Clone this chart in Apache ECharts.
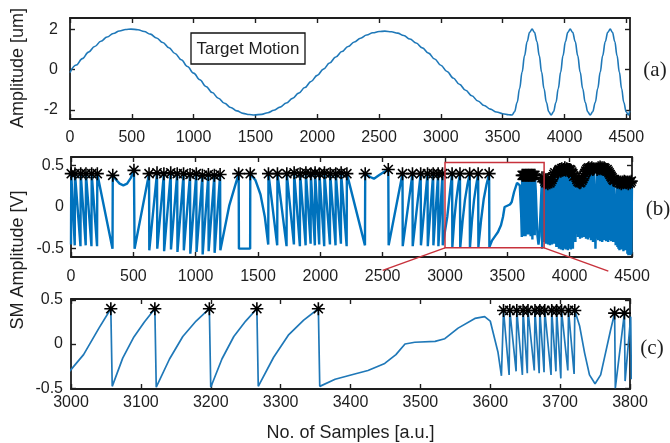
<!DOCTYPE html>
<html><head><meta charset="utf-8">
<script src="https://cdn.jsdelivr.net/npm/echarts@6/dist/echarts.min.js"></script>
<style>html,body{margin:0;padding:0;background:#fff}#c{width:670px;height:443px}</style>
</head><body><div id="c"></div>
<script>
// ---------- tick labels ----------
const xTicksAB = [0,500,1000,1500,2000,2500,3000,3500,4000,4500];
const yTicksA = [-2,0,2];
const yTicksB = [-0.5,0,0.5];
const xTicksC = [3000,3100,3200,3300,3400,3500,3600,3700,3800];
const yTicksC = [-0.5,0,0.5];

// ---------- (a) target motion [sample, um] ----------
const motion = [
[0,-0.15],[50,0.22],[100,0.54],[150,0.86],[200,1.14],[250,1.40],[300,1.61],[350,1.78],[400,1.91],[450,1.98],[493,2.00],
[550,1.97],[600,1.88],[650,1.75],[700,1.56],[750,1.34],[800,1.08],[850,0.79],[900,0.48],[950,0.15],[1000,-0.18],[1050,-0.51],[1100,-0.84],[1150,-1.14],[1200,-1.42],[1250,-1.67],[1300,-1.88],[1350,-2.05],[1400,-2.17],[1450,-2.23],[1490,-2.25],
[1550,-2.22],[1600,-2.14],[1650,-2.02],[1700,-1.86],[1750,-1.66],[1800,-1.43],[1850,-1.17],[1900,-0.89],[1950,-0.59],[2000,-0.29],[2050,0.02],[2100,0.32],[2150,0.62],[2200,0.89],[2250,1.14],[2300,1.36],[2350,1.55],[2400,1.71],[2450,1.82],[2500,1.88],[2547,1.90],
[2600,1.87],[2650,1.80],[2700,1.68],[2750,1.51],[2800,1.31],[2850,1.07],[2900,0.81],[2950,0.52],[3000,0.21],[3050,-0.10],[3100,-0.42],[3150,-0.73],[3200,-1.03],[3250,-1.30],[3300,-1.56],[3350,-1.78],[3400,-1.96],[3450,-2.10],[3500,-2.19],[3550,-2.24],[3576,-2.25],
[3596,-2.09],[3617,-1.63],[3637,-0.94],[3657,-0.13],[3677,0.69],[3698,1.38],[3718,1.84],[3738,2.00],
[3757,1.84],[3777,1.38],[3796,0.69],[3815,-0.13],[3834,-0.94],[3854,-1.63],[3873,-2.09],[3892,-2.25],
[3911,-2.09],[3931,-1.63],[3950,-0.94],[3969,-0.13],[3988,0.69],[4008,1.38],[4027,1.84],[4046,2.00],
[4066,1.84],[4087,1.38],[4107,0.69],[4127,-0.13],[4147,-0.94],[4168,-1.63],[4188,-2.09],[4208,-2.25],
[4228,-2.09],[4249,-1.63],[4269,-0.94],[4289,-0.13],[4309,0.69],[4330,1.38],[4350,1.84],[4370,2.00],
[4388,1.84],[4407,1.38],[4425,0.69],[4444,-0.13],[4462,-0.94],[4480,-1.63],[4499,-2.09],[4517,-2.25],[4528,-2.05]
];

// ---------- (b)/(c) SM signal [sample, V, star flag] ----------
const smSeg1 = [
[0,-0.45],[2,0.40,1],[30,-0.46],[32,0.40,1],[76,-0.47],[78,0.40,1],[118,-0.46],[120,0.40,1],[164,-0.47],[166,0.40,1],[209,-0.47],[211,0.40,1],[333,-0.50],[335,0.38,1],
[360,0.33],[390,0.28],[420,0.26],[450,0.28],[480,0.35],[505,0.44,1],[510,-0.50],
[626,0.40,1],[628,-0.52],[690,0.41,1],[692,-0.50],[745,0.40,1],[747,-0.53],[800,0.41,1],[802,-0.51],[852,0.40,1],[854,-0.54],[903,0.40,1],[905,-0.52],
[955,0.39,1],[957,-0.56],[1005,0.40,1],[1007,-0.54],[1054,0.38,1],[1056,-0.57],[1102,0.39,1],[1104,-0.53],[1150,0.38,1],[1152,-0.55],[1196,0.39,1],[1198,-0.52],
[1270,0.02],[1345,0.40,1],[1347,-0.50],[1437,-0.50],[1438,0.40,1]
];
const smSeg2 = [
[1480,0.32],[1520,0.15],[1555,-0.12],[1582,-0.45],[1584,0.40,1],[1654,-0.46],[1656,0.40,1],[1729,-0.47],[1731,0.40,1],[1788,-0.45],[1790,0.41,1],[1836,-0.47],[1838,0.40,1],
[1882,-0.46],[1884,0.41,1],[1922,-0.44],[1924,0.40,1],[1956,-0.46],[1958,0.41,1],[1991,-0.45],[1993,0.40,1],[2031,-0.47],[2033,0.41,1],[2077,-0.45],[2079,0.40,1],
[2122,-0.46],[2124,0.40,1],[2165,-0.44],[2167,0.41,1],[2211,-0.47],[2213,0.40,1],[2358,-0.46],[2360,0.40,1],
[2400,0.36],[2430,0.34],[2470,0.38],[2510,0.42],[2545,0.45,1],[2548,-0.46]
];
const smSeg3 = [
[2659,0.40,1],[2661,-0.47],[2739,0.40,1],[2741,-0.47],[2805,0.40,1],[2807,-0.46],[2860,0.40,1],[2862,-0.47],[2905,0.40,1],[2907,-0.46],[2945,0.40,1],[2947,-0.47],[2980,0.40,1],[2982,-0.46],
[3000,-0.29],[3018,-0.12],[3040,0.18],[3057,0.40,1],[3059,-0.48],[3074,-0.16],[3090,0.08],[3105,0.25],[3120,0.40,1],[3122,-0.49],[3141,-0.17],[3160,0.085],[3179,0.26],
[3198,0.40,1],[3200,-0.49],[3216,-0.17],[3233,0.085],[3250,0.26],[3266,0.40,1],[3268,-0.48],[3290,-0.15],[3311,0.10],[3333,0.27],[3354,0.40,1],[3356,-0.48],
[3378,-0.40],[3406,-0.34],[3425,-0.30],[3449,-0.22],[3465,-0.12],[3478,0.0],[3492,0.02],[3521,0.03],[3535,0.06],[3554,0.18],[3578,0.29],[3592,0.31],[3600,0.26],[3611,-0.09],[3616,-0.36],
[3619,0.38,1],[3627,-0.35],[3628,0.38,1],[3637,-0.31],[3638,0.38,1],[3646,-0.35],[3647,0.38,1],[3653,-0.33],[3654,0.38,1],[3663,-0.30],[3664,0.38,1],[3670,-0.33],[3671,0.38,1],
[3677,-0.32],[3678,0.38,1],[3687,-0.35],[3688,0.38,1],[3694,-0.31],[3695,0.38,1],[3701,-0.39],[3702,0.38,1],[3711,-0.30],[3712,0.38,1],[3720,-0.34],[3721,0.38,1],
[3728,0.20],[3735,-0.10],[3742,-0.35],[3750,-0.45],[3758,-0.35],[3765,-0.10],[3772,0.15],[3778,0.35,1],[3779,-0.50],[3792,0.35,1],[3793,-0.42]
];
const smSeg4 = [
[3801,0.31,1],[3802,-0.40],[3809,0.29,1],[3810,-0.44],[3817,0.30,1],[3818,-0.41],[3825,0.28,1],[3826,-0.45],[3833,0.30,1],[3834,-0.42],[3841,0.29,1],[3842,-0.46],
[3849,0.31,1],[3850,-0.43],[3857,0.33,1],[3858,-0.45],[3865,0.36,1],[3866,-0.42],[3873,0.39,1],[3874,-0.44],[3881,0.41,1],[3887,0.10],[3893,-0.48],[3899,0.10],
[3905,0.42,1],[3906,-0.48],[3913,0.44,1],[3914,-0.50],[3921,0.45,1],[3922,-0.47],[3929,0.43,1],[3930,-0.51],[3937,0.46,1],[3938,-0.49],[3945,0.44,1],[3946,-0.52],
[3953,0.45,1],[3954,-0.48],[3961,0.47,1],[3962,-0.50],[3969,0.44,1],[3970,-0.51],[3977,0.46,1],[3978,-0.49],[3985,0.45,1],[3986,-0.52],[3993,0.43,1],[3994,-0.50],
[4001,0.45,1],[4002,-0.48],[4009,0.44,1],[4010,-0.51],[4017,0.42,1],[4018,-0.49],[4025,0.40,1],[4026,-0.50],[4033,0.37,1],[4039,0.05],[4046,-0.42],[4052,0.05],
[4058,0.33,1],[4059,-0.32],[4066,0.31,1],[4067,-0.36],[4074,0.30,1],[4075,-0.33],[4082,0.29,1],[4083,-0.38],[4090,0.30,1],[4091,-0.34],[4098,0.32,1],[4099,-0.37],
[4106,0.34,1],[4107,-0.31],[4114,0.37,1],[4115,-0.36],[4122,0.40,1],[4123,-0.33],[4130,0.43,1],[4131,-0.38],[4138,0.45,1],[4139,-0.35],[4146,0.46,1],[4147,-0.39],
[4154,0.47,1],[4155,-0.34],[4162,0.45,1],[4163,-0.37],[4170,0.46,1],[4171,-0.40],[4178,0.47,1],[4179,-0.36],[4186,0.45,1],[4187,-0.42],[4194,0.46,1],[4200,0.10],[4207,-0.50],[4213,0.10],
[4220,0.45,1],[4221,-0.38],[4228,0.47,1],[4229,-0.40],[4236,0.46,1],[4237,-0.37],[4244,0.48,1],[4245,-0.41],[4252,0.46,1],[4253,-0.38],[4260,0.47,1],[4261,-0.42],
[4268,0.45,1],[4269,-0.39],[4276,0.47,1],[4277,-0.40],[4284,0.46,1],[4285,-0.37],[4292,0.44,1],[4293,-0.41],[4300,0.45,1],[4301,-0.39],[4308,0.43,1],[4309,-0.42],
[4316,0.41,1],[4317,-0.38],[4324,0.39,1],[4325,-0.40],[4332,0.37,1],[4333,-0.41],[4340,0.35,1],[4341,-0.39],[4348,0.33,1],[4349,-0.42],[4356,0.32,1],[4362,0.0],[4369,-0.46],[4375,0.0],
[4382,0.30,1],[4383,-0.48],[4390,0.31,1],[4391,-0.50],[4398,0.29,1],[4399,-0.52],[4406,0.30,1],[4407,-0.49],[4414,0.28,1],[4415,-0.51],[4422,0.30,1],[4423,-0.50],
[4430,0.29,1],[4431,-0.53],[4438,0.31,1],[4439,-0.49],[4446,0.30,1],[4447,-0.52],[4454,0.29,1],[4455,-0.50],[4462,0.30,1],[4463,-0.56],[4470,0.28,1],[4471,-0.58],
[4478,0.30,1],[4479,-0.55],[4486,0.29,1],[4487,-0.58],[4494,0.31,1],[4495,-0.56],[4500,0.30]
];

// zoom box in (b) [x0, x1, yBottom, yTop] and connector end points (data units of panel b)
const zoomBox = [3000, 3795, -0.49, 0.535];
const linkEnds = [[2500,-0.76],[4310,-0.77]];

// ---------- build ----------
const smAll = smSeg1.concat(smSeg2, smSeg3, smSeg4);
const smLine = smAll.map(p => [p[0], p[1]]);
const smStars = smAll.filter(p => p[2]).map(p => [p[0], p[1]]);

const FONT = '"Liberation Sans", Arial, sans-serif';
const AXC = '#1e1e1e';
const BLUE = '#0072BD';
const STAR = 'path://M0 5L10 5M5 0L5 10M1.5 1.5L8.5 8.5M8.5 1.5L1.5 8.5';

function xAx(gi, min, max, ticks, pos, show, margin) {
  return {type:'value', gridIndex:gi, position:pos, min:min, max:max,
    axisLine:{show:true, onZero:false, lineStyle:{color:AXC, width:1.8}},
    axisTick:{show:true, inside:true, length:5, customValues:ticks, lineStyle:{color:AXC, width:1.4}},
    axisLabel:{show:show, customValues:ticks, margin:margin||10, fontSize:16, fontFamily:FONT, color:AXC, formatter:v=>String(v)},
    splitLine:{show:false}};
}
function yAx(gi, min, max, ticks, pos, show, margin) {
  return {type:'value', gridIndex:gi, position:pos, min:min, max:max,
    axisLine:{show:true, onZero:false, lineStyle:{color:AXC, width:1.8}},
    axisTick:{show:true, inside:true, length:5, customValues:ticks, lineStyle:{color:AXC, width:1.4}},
    axisLabel:{show:show, customValues:ticks, margin:margin||8, fontSize:16, fontFamily:FONT, color:AXC, formatter:v=>String(v)},
    splitLine:{show:false}};
}

const chart = echarts.init(document.getElementById('c'));
chart.setOption({
  animation:false,
  backgroundColor:'#fff',
  grid:[
    {left:70, top:18, width:560, height:101, outerBoundsMode:'none'},
    {left:71, top:157, width:561, height:100, outerBoundsMode:'none'},
    {left:71, top:299, width:559, height:90, outerBoundsMode:'none'}
  ],
  xAxis:[
    xAx(0, 0, 4530, xTicksAB, 'bottom', true, 11),
    xAx(0, 0, 4530, xTicksAB, 'top', false),
    xAx(1, 0, 4500, xTicksAB, 'bottom', true, 12),
    xAx(1, 0, 4500, xTicksAB, 'top', false),
    Object.assign(xAx(2, 3000, 3800, xTicksC, 'bottom', true, 6), {
      name:'No. of Samples [a.u.]', nameLocation:'middle', nameGap:35,
      nameTextStyle:{fontSize:18, fontFamily:FONT, color:AXC}}),
    xAx(2, 3000, 3800, xTicksC, 'top', false)
  ],
  yAxis:[
    yAx(0, -2.45, 2.55, yTicksA, 'left', true, 12),
    yAx(0, -2.45, 2.55, yTicksA, 'right', false),
    yAx(1, -0.6, 0.6, yTicksB, 'left', true, 7),
    yAx(1, -0.6, 0.6, yTicksB, 'right', false),
    yAx(2, -0.51, 0.51, yTicksC, 'left', true, 8),
    yAx(2, -0.51, 0.51, yTicksC, 'right', false)
  ],
  series:[
    {type:'line', xAxisIndex:0, yAxisIndex:0, data:motion, symbol:'none', showSymbol:false, smooth:0.4, smoothMonotone:'x',
     lineStyle:{color:'#1f78b8', width:1.6}, silent:true},
    {type:'line', xAxisIndex:2, yAxisIndex:2, data:smLine, symbol:'none', showSymbol:false,
     lineStyle:{color:BLUE, width:2.4}, silent:true, z:2},
    {type:'scatter', xAxisIndex:2, yAxisIndex:2, data:smStars, symbol:STAR, symbolSize:13,
     itemStyle:{color:'rgba(0,0,0,0)', borderColor:'#000', borderWidth:1.6, opacity:1}, silent:true, z:3},
    {type:'line', xAxisIndex:4, yAxisIndex:4, data:smLine, symbol:'none', showSymbol:false,
     lineStyle:{color:'#1f78b8', width:1.7}, silent:true, z:2},
    {type:'scatter', xAxisIndex:4, yAxisIndex:4, data:smStars, symbol:STAR, symbolSize:13, clip:true,
     itemStyle:{color:'rgba(0,0,0,0)', borderColor:'#000', borderWidth:1.6, opacity:1}, silent:true, z:3}
  ]
});

// annotations
const finderB = {xAxisIndex:2, yAxisIndex:2};
const p00 = chart.convertToPixel(finderB, [zoomBox[0], zoomBox[2]]);
const p11 = chart.convertToPixel(finderB, [zoomBox[1], zoomBox[3]]);
const p10 = chart.convertToPixel(finderB, [zoomBox[1], zoomBox[2]]);
const eL = chart.convertToPixel(finderB, linkEnds[0]);
const eR = chart.convertToPixel(finderB, linkEnds[1]);
const RED = '#c8323c';
function txt(t, x, y, size, fam, rot) {
  return {type:'text', x:x, y:y, rotation:rot||0, z:100,
    style:{text:t, font:size+'px '+fam, fill:AXC, align:'center', verticalAlign:'middle', textAlign:'center', textVerticalAlign:'middle'}};
}
chart.setOption({graphic:[
  {type:'rect', z:100, shape:{x:p00[0], y:p11[1], width:p11[0]-p00[0], height:p00[1]-p11[1]},
   style:{fill:'none', stroke:RED, lineWidth:1.5}},
  {type:'line', z:100, shape:{x1:p00[0], y1:p00[1], x2:eL[0], y2:eL[1]}, style:{stroke:RED, lineWidth:1.5}},
  {type:'line', z:100, shape:{x1:p10[0], y1:p10[1], x2:eR[0], y2:eR[1]}, style:{stroke:RED, lineWidth:1.5}},
  {type:'rect', z:100, shape:{x:191, y:33, width:114, height:31}, style:{fill:'#fff', stroke:'#111', lineWidth:1.3}},
  txt('Target Motion', 248, 49, 17, FONT),
  txt('Amplitude [um]', 18, 68, 18, FONT, Math.PI/2),
  txt('SM Amplitude [V]', 18, 260, 18, FONT, Math.PI/2),
  txt('(a)', 655, 70, 21, '"Liberation Serif", "Times New Roman", serif'),
  txt('(b)', 658, 209, 21, '"Liberation Serif", "Times New Roman", serif'),
  txt('(c)', 652, 348, 21, '"Liberation Serif", "Times New Roman", serif')
]});
</script>
</body></html>
